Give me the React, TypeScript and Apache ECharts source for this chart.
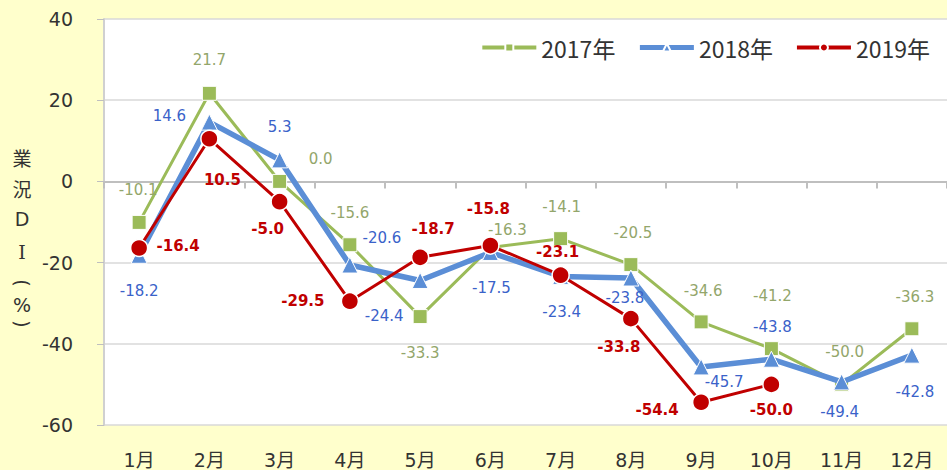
import React, { useEffect, useRef } from 'react';
import * as echarts from 'echarts';

const months = ['1月', '2月', '3月', '4月', '5月', '6月', '7月', '8月', '9月', '10月', '11月', '12月'];
const seriesNames = ['2017年', '2018年', '2019年'];
const di2017 = [-10.1, 21.7, 0.0, -15.6, -33.3, -16.3, -14.1, -20.5, -34.6, -41.2, -50.0, -36.3];
const di2018 = [-18.2, 14.6, 5.3, -20.6, -24.4, -17.5, -23.4, -23.8, -45.7, -43.8, -49.4, -42.8];
const di2019 = [-16.4, 10.5, -5.0, -29.5, -18.7, -15.8, -23.1, -33.8, -54.4, -50.0];
const yMin = -60;
const yMax = 40;
const yStep = 20;

// label offsets (px) relative to each marker
const off2017 = [[-1, -32], [0, -33], [41, -22], [0, -32], [0, 36], [17, -18], [1, -32], [2, -32], [2, -31], [1, -53], [3, -32], [3, -32]];
const off2018 = [[0, 36], [-40, -6], [0, -33], [32, -27], [-36, 36], [1, 36], [1, 36], [-6, 20], [23, 15], [1, -32], [-2, 30], [3, 37]];
const off2019 = [[39, -2], [13, 41], [-12, 27], [-47, 0], [13, -28], [-2, -37], [-3, -23], [-12, 28], [-44, 8], [0, 26]];

const yTitle = [
  { ch: '業', y: 157, rot: 0, font: "'Noto Sans CJK JP', sans-serif" },
  { ch: '況', y: 188, rot: 0, font: "'Noto Sans CJK JP', sans-serif" },
  { ch: 'D', y: 219, rot: 0, font: "'DejaVu Sans', sans-serif" },
  { ch: 'I', y: 252, rot: 0, font: "'DejaVu Serif', serif" },
  { ch: '(', y: 283, rot: -Math.PI / 2, font: "'DejaVu Sans', sans-serif" },
  { ch: '%', y: 305, rot: 0, font: "'DejaVu Sans', sans-serif" },
  { ch: ')', y: 324, rot: -Math.PI / 2, font: "'DejaVu Sans', sans-serif" },
];

const mk = (vals: number[], offs: number[][]) =>
  vals.map((v, i) => ({ value: v, label: { offset: offs[i] } }));

export default function App() {
  const ref = useRef<HTMLDivElement>(null);
  useEffect(() => {
    const chart = echarts.init(ref.current!, null, { renderer: 'svg' });
    const labelFont = "'DejaVu Sans', 'Noto Sans CJK JP', sans-serif";
    chart.setOption({
      animation: false,
      backgroundColor: '#FFFFCC',
      grid: {
        left: 104,
        top: 19,
        right: -1,
        bottom: 45,
        show: true,
        backgroundColor: '#FFFFFF',
        borderWidth: 0,
      },
      legend: {
        right: 12,
        top: 31,
        itemWidth: 54,
        itemHeight: 10,
        itemGap: 22,
        data: [
          { name: seriesNames[0], lineStyle: { width: 4 } },
          { name: seriesNames[1], lineStyle: { width: 5 } },
          { name: seriesNames[2], lineStyle: { width: 4 } },
        ],
        textStyle: {
          fontSize: 23,
          fontFamily: "'Noto Sans CJK JP', sans-serif",
          color: '#333333',
        },
      },
      xAxis: {
        type: 'category',
        data: months,
        boundaryGap: true,
        axisLine: { show: true, lineStyle: { color: '#BFBFBF', width: 2 } },
        axisTick: { show: true, length: 7, lineStyle: { color: '#BFBFBF', width: 2 } },
        axisLabel: {
          margin: 25,
          fontSize: 19,
          color: '#333333',
          fontFamily: labelFont,
        },
        splitLine: { show: false },
      },
      yAxis: {
        type: 'value',
        min: yMin,
        max: yMax,
        interval: yStep,
        axisLine: { show: true, lineStyle: { color: '#D0D0D0', width: 2 } },
        axisTick: { show: true, length: 7, lineStyle: { color: '#BFBFBF' } },
        axisLabel: {
          margin: 31,
          fontSize: 19,
          color: '#333333',
          fontFamily: labelFont,
        },
        splitLine: { show: true, lineStyle: { color: '#D9D9D9', width: 1.5 } },
      },
      graphic: yTitle.map((t) => ({
        type: 'text',
        x: 22,
        y: t.y,
        rotation: t.rot,
        style: {
          text: t.ch,
          fontSize: 19,
          fontFamily: t.font,
          fill: '#333333',
          align: 'center',
          verticalAlign: 'middle',
        },
      })),
      series: [
        {
          name: seriesNames[0],
          type: 'line',
          data: mk(di2017, off2017),
          symbol: 'rect',
          symbolSize: 14,
          lineStyle: { color: '#9BBB59', width: 3 },
          itemStyle: { color: '#9BBB59', borderColor: '#FFFFFF', borderWidth: 1 },
          label: {
            show: true,
            position: 'inside',
            formatter: (p: any) => Number(p.value).toFixed(1),
            fontSize: 15,
            fontFamily: labelFont,
            color: '#93A66B',
            align: 'center',
            verticalAlign: 'middle',
          },
          z: 2,
        },
        {
          name: seriesNames[1],
          type: 'line',
          data: mk(di2018, off2018),
          symbol: 'triangle',
          symbolSize: 16,
          lineStyle: { color: '#5B8ED6', width: 5.5 },
          itemStyle: { color: '#5B8ED6', borderColor: '#FFFFFF', borderWidth: 1 },
          label: {
            show: true,
            position: 'inside',
            formatter: (p: any) => Number(p.value).toFixed(1),
            fontSize: 15,
            fontFamily: labelFont,
            color: '#3A62C9',
            align: 'center',
            verticalAlign: 'middle',
          },
          z: 3,
        },
        {
          name: seriesNames[2],
          type: 'line',
          data: mk(di2019, off2019),
          symbol: 'circle',
          symbolSize: 17,
          lineStyle: { color: '#C00000', width: 3 },
          itemStyle: { color: '#C00000', borderColor: '#FFFFFF', borderWidth: 1.5 },
          label: {
            show: true,
            position: 'inside',
            formatter: (p: any) => Number(p.value).toFixed(1),
            fontSize: 15,
            fontWeight: 'bold',
            fontFamily: labelFont,
            color: '#C00000',
            align: 'center',
            verticalAlign: 'middle',
          },
          z: 4,
        },
      ],
    });
    return () => chart.dispose();
  }, []);
  return (
    <div
      ref={ref}
      style={{ position: 'fixed', left: 0, top: 0, width: 947, height: 470 }}
    />
  );
}
